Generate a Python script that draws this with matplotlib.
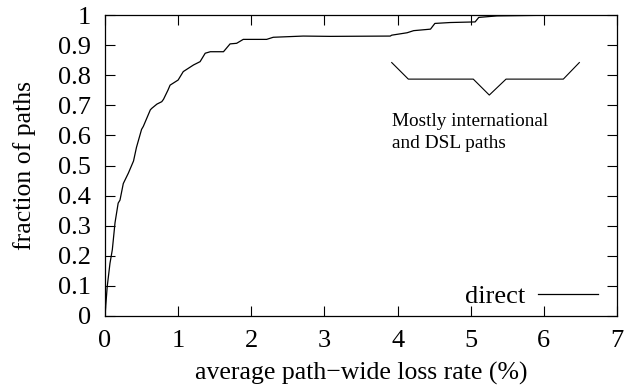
import matplotlib
matplotlib.use("Agg")
import matplotlib.pyplot as plt

plt.rcParams['font.family'] = ['Liberation Serif', 'DejaVu Serif']
plt.rcParams['mathtext.fontset'] = 'stix'

# CDF of average path-wide loss rate
loss_rate = [0.0, 0.03, 0.068, 0.1, 0.137, 0.18, 0.205, 0.25, 0.32, 0.39, 0.43, 0.5,
             0.524, 0.62, 0.64, 0.71, 0.776, 0.8, 0.86, 0.89, 1.0, 1.07, 1.21, 1.3,
             1.37, 1.44, 1.62, 1.71, 1.8, 1.89, 2.21, 2.3, 2.71, 3.08, 3.9, 3.92,
             4.13, 4.22, 4.45, 4.51, 4.72, 5.06, 5.11, 5.36, 6.27]
fraction = [0.0, 0.097, 0.175, 0.22, 0.31, 0.375, 0.385, 0.44, 0.475, 0.515, 0.56, 0.62,
            0.63, 0.685, 0.69, 0.704, 0.712, 0.72, 0.75, 0.767, 0.784, 0.812, 0.834, 0.845,
            0.873, 0.878, 0.878, 0.904, 0.906, 0.919, 0.919, 0.926, 0.93, 0.929, 0.93, 0.933,
            0.941, 0.948, 0.953, 0.972, 0.975, 0.977, 0.992, 0.997, 1.0]

# annotation bracket
brace_x = [3.92, 4.147, 5.035, 5.254, 5.483, 6.266, 6.485]
brace_y = [0.842, 0.787, 0.787, 0.734, 0.787, 0.787, 0.842]

xticks = [0, 1, 2, 3, 4, 5, 6, 7]
yticks = [0, 0.1, 0.2, 0.3, 0.4, 0.5, 0.6, 0.7, 0.8, 0.9, 1]
ytick_labels = ['0', '0.1', '0.2', '0.3', '0.4', '0.5', '0.6', '0.7', '0.8', '0.9', '1']

fig = plt.figure(figsize=(6.29, 3.85), dpi=100)
ax = fig.add_axes([105/629, 1-316/385, (617-105)/629, (316-15)/385])

ax.plot(loss_rate, fraction, color='black', lw=0.9, label='direct')
ax.plot(brace_x, brace_y, color='black', lw=0.8)
ax.text(3.92, 0.645, 'Mostly international', fontsize=13.9, va='center', ha='left')
ax.text(3.92, 0.572, 'and DSL paths', fontsize=13.9, va='center', ha='left')

ax.set_xlim(0, 7)
ax.set_ylim(0, 1)
ax.set_xticks(xticks)
ax.set_xticklabels([str(t) for t in xticks])
ax.set_yticks(yticks)
ax.set_yticklabels(ytick_labels)
ax.tick_params(direction='in', length=7, width=0.8, top=True, right=True,
               labelsize=19)
ax.tick_params(axis='x', pad=10)
ax.tick_params(axis='y', pad=10)
for s in ax.spines.values():
    s.set_linewidth(0.9)

ax.set_xlabel('average path\u2212wide loss rate (%)', fontsize=18.5, labelpad=7)
ax.set_ylabel('fraction of paths', fontsize=18.5, labelpad=16)

leg = ax.legend(loc='center right', frameon=False, markerfirst=False, fontsize=19,
                handlelength=2.27, borderaxespad=0, borderpad=0, handletextpad=0.49,
                bbox_to_anchor=(0.963, 0.066))

fig.savefig('out.png', dpi=100)
